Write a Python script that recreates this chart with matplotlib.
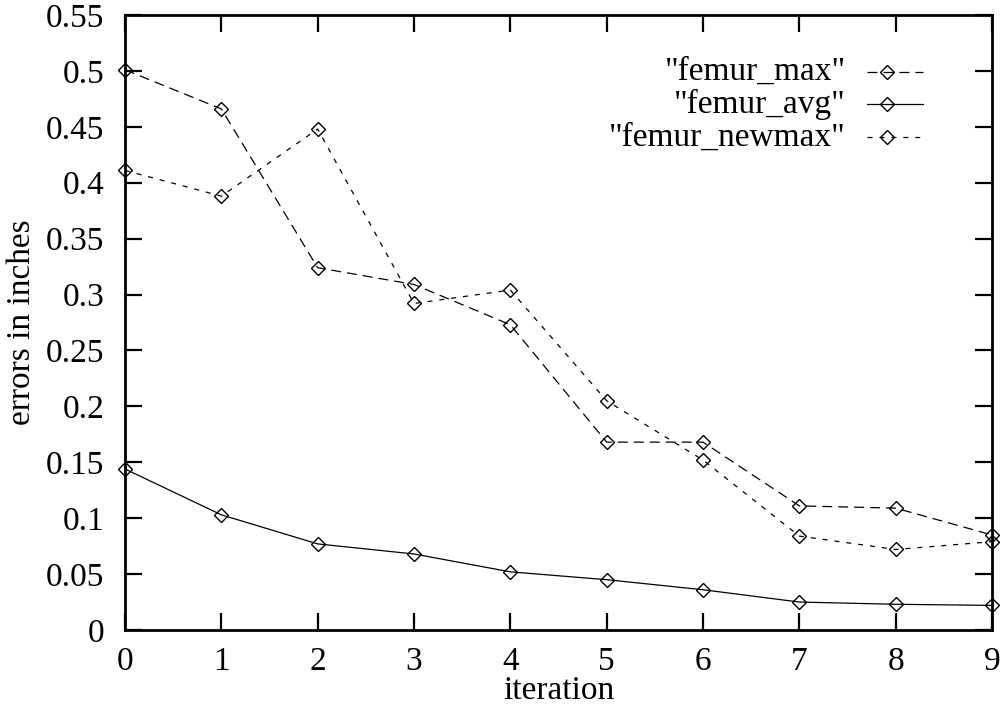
import matplotlib
matplotlib.use("Agg")
import matplotlib.pyplot as plt
from matplotlib.lines import Line2D

iterations = [0, 1, 2, 3, 4, 5, 6, 7, 8, 9]
femur_max = [0.501, 0.466, 0.324, 0.309, 0.273, 0.168, 0.168, 0.111, 0.109, 0.085]
femur_avg = [0.144, 0.103, 0.077, 0.068, 0.052, 0.045, 0.036, 0.025, 0.023, 0.022]
femur_newmax = [0.411, 0.388, 0.448, 0.292, 0.304, 0.205, 0.152, 0.084, 0.072, 0.079]
labels = ['"femur_max"', '"femur_avg"', '"femur_newmax"']
yticks = [0, 0.05, 0.1, 0.15, 0.2, 0.25, 0.3, 0.35, 0.4, 0.45, 0.5, 0.55]
ytick_labels = ["0", "0.05", "0.1", "0.15", "0.2", "0.25", "0.3", "0.35", "0.4", "0.45", "0.5", "0.55"]

plt.rcParams['font.family'] = ['Liberation Serif', 'DejaVu Serif']
plt.rcParams['lines.scale_dashes'] = False

W, H = 1003, 712
fig = plt.figure(figsize=(W / 100, H / 100), dpi=100)
ax = fig.add_axes([125 / W, 1 - 630 / H, (992 - 125) / W, (630 - 15) / H])

styles = [
    dict(dashes=(7.2, 4.3)),
    dict(linestyle='-'),
    dict(dashes=(3.6, 5.0)),
]
series = [femur_max, femur_avg, femur_newmax]
for vals, st in zip(series, styles):
    ax.plot(iterations, vals, color='black', linewidth=0.9, marker='D',
            markersize=7.6, markerfacecolor='none', markeredgecolor='black',
            markeredgewidth=1.0, clip_on=False, **st)

ax.set_xlim(0, 9)
ax.set_ylim(0, 0.55)
ax.set_xticks(iterations)
ax.set_yticks(yticks)
ax.set_yticklabels(ytick_labels)
ax.tick_params(direction='in', length=12, width=1.6, top=True, right=True,
               labelsize=24, pad=15)
ax.tick_params(axis='x', pad=12)
for s in ax.spines.values():
    s.set_linewidth(2.0)

ax.set_xlabel("iteration", fontsize=24, labelpad=-1)
ax.set_ylabel("errors in inches", fontsize=24, labelpad=6)

# manual gnuplot-style legend (text right-aligned, sample on the right)
tr = ax.transAxes
def fx(px):
    return (px - 125) / (992 - 125)
def fy(py):
    return (630 - py) / (630 - 15)
rows_y = [72, 104, 137]
for lab, st, ry in zip(labels, styles, rows_y):
    ax.text(fx(846), fy(ry), lab, transform=tr, ha='right', va='center', fontsize=24)
    ax.add_line(Line2D([fx(867), fx(923)], [fy(ry), fy(ry)], transform=tr,
                       color='black', linewidth=0.9, **st))
    ax.add_line(Line2D([fx(887)], [fy(ry)], transform=tr, marker='D', markersize=7.6,
                       markerfacecolor='none', markeredgecolor='black',
                       markeredgewidth=1.0, linestyle='none'))

fig.savefig("out.png", dpi=100)
